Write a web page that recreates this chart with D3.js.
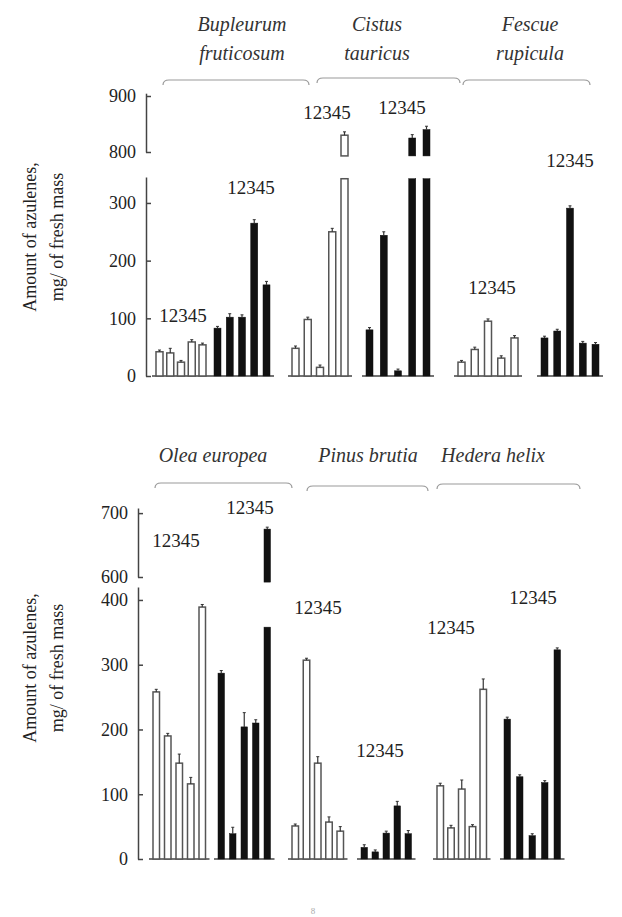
<!DOCTYPE html>
<html>
<head>
<meta charset="utf-8">
<script src="https://cdn.jsdelivr.net/npm/d3@7"></script>
</head>
<body style="margin:0">
<script>
// ---- data ----
var barNumbers = ["1", "2", "3", "4", "5"];

var topSpecies = [["Bupleurum", "fruticosum"], ["Cistus", "tauricus"], ["Fescue", "rupicula"]];
var bottomSpecies = [["Olea europea"], ["Pinus brutia"], ["Hedera helix"]];

var bupleurumOpen  = [42, 40, 24, 59, 54];
var bupleurumSolid = [83, 102, 102, 265, 158];
var cistusOpen     = [48, 98, 15, 250, 830];
var cistusSolid    = [80, 244, 9, 825, 840];
var fescueOpen     = [24, 46, 95, 31, 66];
var fescueSolid    = [66, 78, 291, 57, 55];

var oleaOpen   = [258, 190, 148, 116, 389];
var oleaSolid  = [287, 39, 204, 210, 675];
var pinusOpen  = [51, 307, 148, 57, 43];
var pinusSolid = [18, 11, 40, 82, 39];
var hederaOpen  = [113, 48, 108, 50, 262];
var hederaSolid = [216, 127, 36, 118, 323];

// error whiskers
var bupleurumOpenErr  = [3, 8, 3, 4, 3];
var bupleurumSolidErr = [3, 6, 4, 6, 6];
var cistusOpenErr     = [4, 4, 4, 6, 6];
var cistusSolidErr    = [4, 6, 3, 6, 6];
var fescueOpenErr     = [3, 4, 4, 4, 4];
var fescueSolidErr    = [3, 3, 4, 3, 3];
var oleaOpenErr   = [4, 4, 14, 10, 4];
var oleaSolidErr  = [4, 10, 22, 5, 3];
var pinusOpenErr  = [3, 3, 10, 8, 7];
var pinusSolidErr = [4, 3, 3, 7, 5];
var hederaOpenErr  = [4, 4, 14, 3, 16];
var hederaSolidErr = [3, 3, 3, 3, 3];

var topLowerTicks = [0, 100, 200, 300];
var topUpperTicks = [800, 900];
var bottomLowerTicks = [0, 100, 200, 300, 400];
var bottomUpperTicks = [600, 700];

var yLabel = ["Amount of azulenes,", "mg/ of fresh mass"];

// ---- layout ----
var SERIF = "'Liberation Serif', 'Times New Roman', serif";
var width = 622, height = 917;
var svg = d3.select("body").append("svg")
    .attr("width", width)
    .attr("height", height);
svg.append("rect").attr("width", width).attr("height", height).attr("fill", "#fff");

// helper: text in the figure's serif face
function label(sel, size) {
  return sel.attr("font-family", SERIF)
    .style("font-family", SERIF, "important")
    .style("font-size", size + "px")
    .style("fill", "#222");
}

var panels = [
  {
    axisX: 146,
    lower: d3.scaleLinear().domain([0, 345]).range([376, 177]),
    upper: d3.scaleLinear().domain([800, 905]).range([152, 93.2]),
    lowerTicks: topLowerTicks, upperTicks: topUpperTicks,
    breakLo: 342, breakHi: 793, barW: 7,
    labelY: 237,
    species: topSpecies,
    titleX: [242, 377, 530], titleY: [31, 60],
    brackets: [[163, 309, 80], [317, 460, 78], [463, 590, 80]],
    groups: [
      {v: bupleurumOpen, e: bupleurumOpenErr, solid: false, x: [156, 199], lab: [183, 315]},
      {v: bupleurumSolid, e: bupleurumSolidErr, solid: true, x: [214, 263], lab: [251, 187]},
      {v: cistusOpen, e: cistusOpenErr, solid: false, x: [292, 341], lab: [327, 112]},
      {v: cistusSolid, e: cistusSolidErr, solid: true, x: [366, 423], lab: [402, 107]},
      {v: fescueOpen, e: fescueOpenErr, solid: false, x: [458, 511], lab: [492, 287]},
      {v: fescueSolid, e: fescueSolidErr, solid: true, x: [541, 592], lab: [570, 160]}
    ]
  },
  {
    axisX: 138,
    lower: d3.scaleLinear().domain([0, 420]).range([859, 587]),
    upper: d3.scaleLinear().domain([600, 708]).range([577, 508]),
    lowerTicks: bottomLowerTicks, upperTicks: bottomUpperTicks,
    breakLo: 358, breakHi: 592, barW: 6.5,
    labelY: 668,
    species: bottomSpecies,
    titleX: [213, 368, 493], titleY: [462],
    brackets: [[155, 292, 483], [307, 428, 486], [437, 580, 484]],
    groups: [
      {v: oleaOpen, e: oleaOpenErr, solid: false, x: [153, 199], lab: [176, 540]},
      {v: oleaSolid, e: oleaSolidErr, solid: true, x: [218, 264], lab: [250, 507]},
      {v: pinusOpen, e: pinusOpenErr, solid: false, x: [292, 337], lab: [318, 607]},
      {v: pinusSolid, e: pinusSolidErr, solid: true, x: [361, 405], lab: [380, 750]},
      {v: hederaOpen, e: hederaOpenErr, solid: false, x: [437, 480], lab: [451, 627]},
      {v: hederaSolid, e: hederaSolidErr, solid: true, x: [504, 554], lab: [533, 597]}
    ]
  }
];

panels.forEach(function(p) {
  var g = svg.append("g");
  var lowerMax = p.lower.domain()[1];

  // y axis title (two rotated lines)
  yLabel.forEach(function(t, i) {
    label(g.append("text"), 18)
      .attr("transform", "translate(" + (36 + i * 27) + "," + p.labelY + ") rotate(-90)")
      .attr("text-anchor", "middle")
      .text(t);
  });

  // two axis segments, ticks pointing inwards
  [[p.lower, p.lowerTicks], [p.upper, p.upperTicks]].forEach(function(a) {
    var ax = g.append("g")
      .attr("transform", "translate(" + p.axisX + ",0)")
      .call(d3.axisLeft(a[0]).tickValues(a[1]).tickSizeInner(-5).tickSizeOuter(0).tickPadding(10));
    ax.attr("font-family", SERIF);
    ax.select(".domain").attr("stroke", "#444").attr("stroke-width", 1.5);
    ax.selectAll(".tick line").attr("stroke", "#444").attr("stroke-width", 1.5);
    label(ax.selectAll(".tick text"), 18);
  });

  // species titles
  p.species.forEach(function(lines, i) {
    lines.forEach(function(t, j) {
      label(g.append("text"), 20)
        .attr("x", p.titleX[i])
        .attr("y", p.titleY[j])
        .attr("text-anchor", "middle")
        .style("font-style", "italic")
        .style("fill", "#333")
        .text(t);
    });
  });

  // brackets under the titles
  g.selectAll("path.bracket")
    .data(p.brackets)
    .enter().append("path")
    .attr("class", "bracket")
    .attr("fill", "none")
    .attr("stroke", "#999")
    .attr("stroke-width", 1.2)
    .attr("d", function(b) {
      var x0 = b[0], x1 = b[1], y = b[2];
      return "M" + x0 + "," + (y + 5) + "Q" + x0 + "," + y + " " + (x0 + 6) + "," + y +
             "L" + (x1 - 6) + "," + y + "Q" + x1 + "," + y + " " + x1 + "," + (y + 5);
    });

  var y0 = p.lower(0);

  p.groups.forEach(function(grp) {
    var x = d3.scalePoint().domain(barNumbers).range(grp.x);
    var rows = grp.v.map(function(v, i) { return {k: barNumbers[i], v: v, e: grp.e[i]}; });
    var fill = grp.solid ? "#111" : "#fff";
    var stroke = grp.solid ? "#111" : "#555";
    var sw = grp.solid ? 0.5 : 1.5;

    // baseline under group
    g.append("line")
      .attr("x1", x("1") - 4).attr("x2", x("5") + p.barW + 4)
      .attr("y1", y0).attr("y2", y0)
      .attr("stroke", "#444").attr("stroke-width", 1.5);

    var bars = g.selectAll(null).data(rows).enter();

    // lower part (cut at the axis break for off-scale bars)
    function lowTop(d) { return d.v > lowerMax ? p.breakLo : d.v; }
    bars.append("rect")
      .attr("x", function(d) { return x(d.k); })
      .attr("width", p.barW)
      .attr("y", function(d) { return p.lower(lowTop(d)); })
      .attr("height", function(d) { return y0 - p.lower(lowTop(d)); })
      .attr("fill", fill).attr("stroke", stroke).attr("stroke-width", sw);

    // upper part for broken bars
    var broken = rows.filter(function(d) { return d.v > lowerMax; });
    g.selectAll(null).data(broken).enter().append("rect")
      .attr("x", function(d) { return x(d.k); })
      .attr("width", p.barW)
      .attr("y", function(d) { return p.upper(d.v); })
      .attr("height", function(d) { return p.upper(p.breakHi) - p.upper(d.v); })
      .attr("fill", fill).attr("stroke", stroke).attr("stroke-width", sw);

    // error whiskers
    function topY(d) { return d.v > lowerMax ? p.upper(d.v) : p.lower(d.v); }
    function errY(d) { return d.v > lowerMax ? p.upper(d.v + d.e) : p.lower(d.v + d.e); }
    bars.append("line")
      .attr("x1", function(d) { return x(d.k) + p.barW / 2; })
      .attr("x2", function(d) { return x(d.k) + p.barW / 2; })
      .attr("y1", topY).attr("y2", errY)
      .attr("stroke", "#333").attr("stroke-width", 1.2);
    bars.append("line")
      .attr("x1", function(d) { return x(d.k) + p.barW / 2 - 1.5; })
      .attr("x2", function(d) { return x(d.k) + p.barW / 2 + 1.5; })
      .attr("y1", errY).attr("y2", errY)
      .attr("stroke", "#333").attr("stroke-width", 1);

    // "12345" label above each group
    label(g.append("text"), 19)
      .attr("x", grp.lab[0])
      .attr("y", grp.lab[1])
      .attr("dy", "0.35em")
      .attr("text-anchor", "middle")
      .text(barNumbers.join(""));
  });
});

// page number
label(svg.append("text"), 9)
  .attr("x", 313).attr("y", 914)
  .attr("text-anchor", "middle")
  .style("fill", "#aaa")
  .text("8");
</script>
</body>
</html>
